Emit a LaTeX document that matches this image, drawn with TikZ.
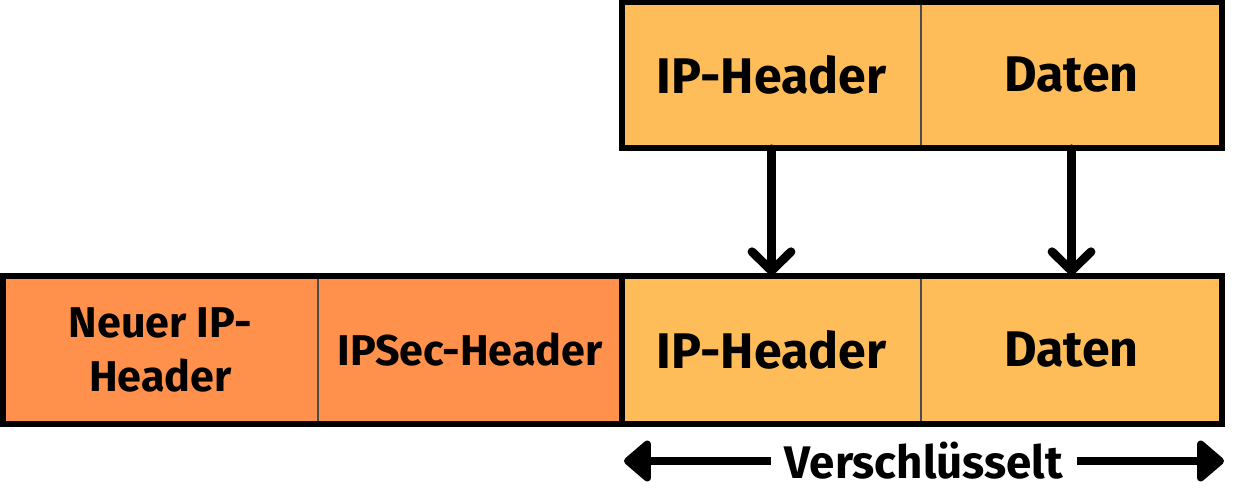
\documentclass[tikz,border=0pt]{standalone}
\usepackage{fontspec}
\setmainfont{Fira Sans}
\usetikzlibrary{arrows.meta}
\definecolor{lightorange}{HTML}{FFBD59}
\definecolor{darkorange}{HTML}{FF914D}
\tikzset{
  box/.style={draw=black!70, line width=1pt, inner sep=0pt, font=\bfseries\fontsize{28.5}{30}\selectfont},
  smallbox/.style={box, font=\bfseries\fontsize{24.5}{31}\selectfont, align=center},
  group/.style={draw=black, line width=2.9pt},
  downarrow/.style={line width=5pt, line cap=round, -{Straight Barb[length=0.38cm, width=0.78cm, line cap=round, line join=round]}},
  sidearrow/.style={line width=4.5pt, -{Triangle[round, length=0.58cm, width=0.95cm]}}
}
\begin{document}
\begin{tikzpicture}[x=0.02cm, y=-0.02cm]
\useasboundingbox (0,0) rectangle (1250,500);
% top row
\node[box, fill=lightorange, minimum width=5.98cm, minimum height=2.92cm] (tip) at (771.5,75) {IP-Header};
\node[box, fill=lightorange, minimum width=6.02cm, minimum height=2.92cm] (tdat) at (1071.5,75) {Daten};
\draw[group] (622,2) rectangle (1222,148);
% bottom row
\node[smallbox, fill=darkorange, minimum width=6.3cm, minimum height=2.96cm] (neu) at (160.5,350) {Neuer IP-\\Header};
\node[smallbox, fill=darkorange, minimum width=6.08cm, minimum height=2.96cm] (sec) at (470,350) {IPSec-Header};
\node[box, fill=lightorange, minimum width=5.98cm, minimum height=2.96cm] (bip) at (771.5,350) {IP-Header};
\node[box, fill=lightorange, minimum width=6.02cm, minimum height=2.96cm] (bdat) at (1071.5,350) {Daten};
\draw[group] (3,276) rectangle (622,424);
\draw[group] (622,276) rectangle (1222,424);
% arrows
\draw[downarrow] (tip.south) -- (bip.north);
\draw[downarrow] (tdat.south) -- (bdat.north);
% encrypted span
\node[font=\bfseries\fontsize{26}{30}\selectfont, inner xsep=0.28cm, inner ysep=0pt] (ver) at (924,461) {Verschlüsselt};
\coordinate (lend) at (624,461);
\coordinate (rend) at (1224,461);
\draw[sidearrow] (ver.west) -- (lend);
\draw[sidearrow] (ver.east) -- (rend);
\end{tikzpicture}
\end{document}
